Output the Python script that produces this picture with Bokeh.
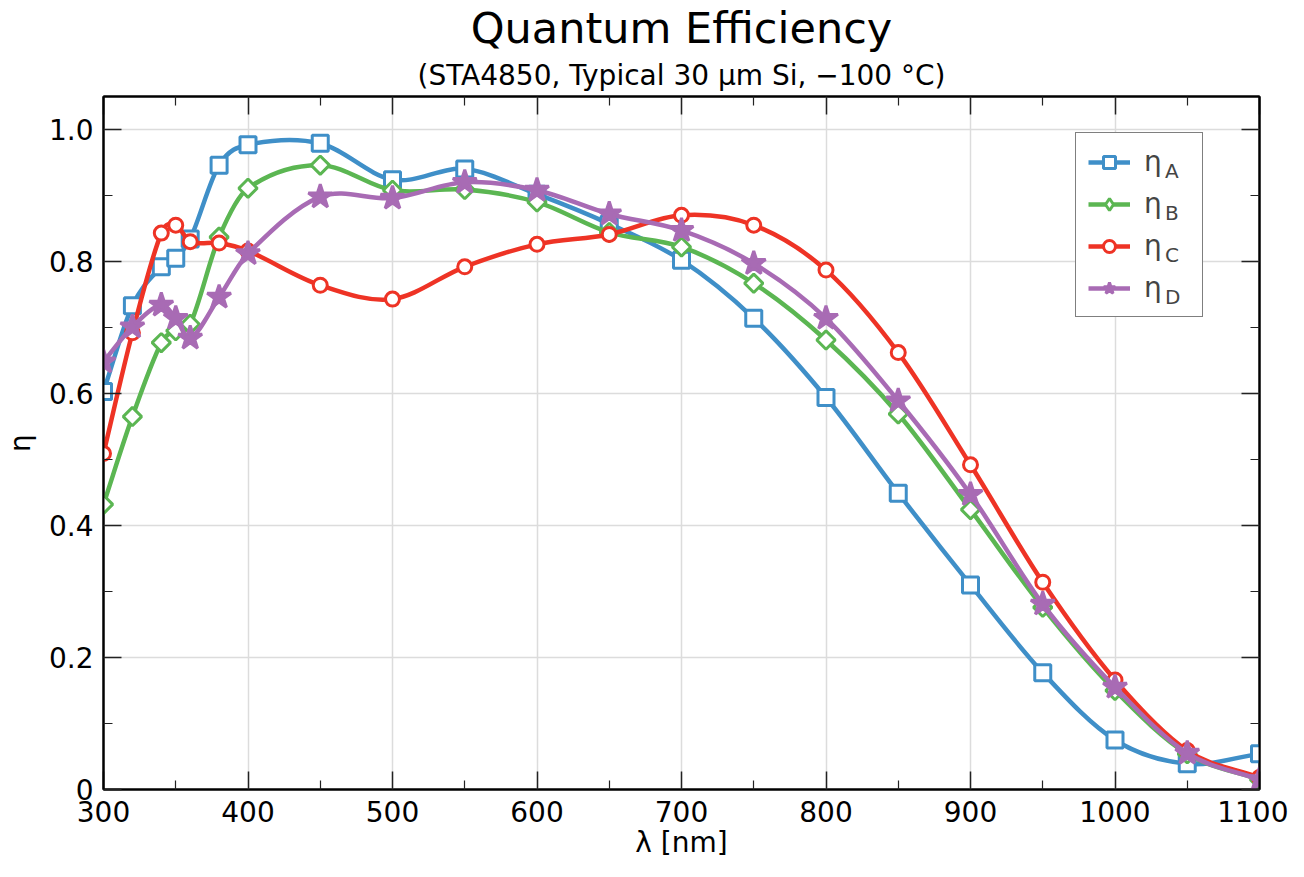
import numpy as np
from bokeh.plotting import figure
from bokeh.models import (LinearAxis, FixedTicker, Range1d, Legend, LegendItem,
                          Title, Grid, ColumnDataSource)
from bokeh.embed import file_html
from bokeh.resources import INLINE

# ---------------- data ----------------
wavelength = [300, 320, 340, 350, 360, 380, 400, 450, 500, 550, 600, 650,
              700, 750, 800, 850, 900, 950, 1000, 1050, 1100]
eta_A = [0.603, 0.733, 0.792, 0.805, 0.834, 0.946, 0.977, 0.979, 0.924, 0.940, 0.902,
         0.857, 0.802, 0.714, 0.594, 0.449, 0.310, 0.177, 0.075, 0.039, 0.054]
eta_B = [0.432, 0.565, 0.677, 0.695, 0.705, 0.837, 0.911, 0.946, 0.908, 0.909, 0.890,
         0.844, 0.822, 0.767, 0.681, 0.569, 0.424, 0.276, 0.150, 0.054, 0.015]
eta_C = [0.509, 0.692, 0.843, 0.855, 0.830, 0.828, 0.816, 0.764, 0.743, 0.792, 0.826,
         0.841, 0.870, 0.855, 0.787, 0.662, 0.492, 0.314, 0.166, 0.059, 0.018]
eta_D = [0.648, 0.701, 0.734, 0.714, 0.684, 0.746, 0.812, 0.898, 0.896, 0.920, 0.908,
         0.872, 0.847, 0.797, 0.714, 0.589, 0.447, 0.281, 0.155, 0.055, 0.015]

series_names = ["A", "B", "C", "D"]
series_values = [eta_A, eta_B, eta_C, eta_D]
colors = ["#3F8FC8", "#5BB652", "#EE3325", "#A86BB4"]

x_ticks = [300, 400, 500, 600, 700, 800, 900, 1000, 1100]
x_minor = [350, 450, 550, 650, 750, 850, 950, 1050]
y_ticks = [0, 0.2, 0.4, 0.6, 0.8, 1.0]
y_tick_labels = ["0", "0.2", "0.4", "0.6", "0.8", "1.0"]
y_minor = [0.1, 0.3, 0.5, 0.7, 0.9]

title_text = "Quantum Efficiency"
subtitle_text = "(STA4850, Typical 30 μm Si, −100 °C)"
x_label = "λ [nm]"
y_label = "η"

FONT = "DejaVu Sans"


def bezier_segments(xs, ys):
    """Hermite-spline segments (as cubic Bezier control points) through the data."""
    xs = np.asarray(xs, float)
    ys = np.asarray(ys, float)
    n = len(xs)
    m = np.zeros(n)
    m[0] = (ys[1] - ys[0]) / (xs[1] - xs[0])
    m[-1] = (ys[-1] - ys[-2]) / (xs[-1] - xs[-2])
    for i in range(1, n - 1):
        m[i] = (ys[i + 1] - ys[i - 1]) / (xs[i + 1] - xs[i - 1])
    h = xs[1:] - xs[:-1]
    return dict(x0=xs[:-1], y0=ys[:-1], x1=xs[1:], y1=ys[1:],
                cx0=xs[:-1] + h / 3, cy0=ys[:-1] + m[:-1] * h / 3,
                cx1=xs[1:] - h / 3, cy1=ys[1:] - m[1:] * h / 3)


p = figure(width=1288, height=861, output_backend="svg", toolbar_location=None,
           x_range=Range1d(300, 1100), y_range=Range1d(0, 1.05),
           min_border_left=95, min_border_right=29, min_border_top=88,
           min_border_bottom=70, x_axis_location=None, y_axis_location=None)
p.background_fill_color = "white"
p.border_fill_color = "white"
p.outline_line_color = "black"
p.outline_line_width = 2


def style_axis(ax, ticks, minor, show_labels):
    ax.ticker = FixedTicker(ticks=ticks, minor_ticks=minor)
    ax.axis_line_color = "black"
    ax.axis_line_width = 2
    ax.major_tick_in = 18
    ax.major_tick_out = 0
    ax.minor_tick_in = 9
    ax.minor_tick_out = 0
    ax.major_tick_line_color = "#222222"
    ax.minor_tick_line_color = "#222222"
    ax.major_tick_line_width = 1.5
    ax.minor_tick_line_width = 1.2
    if show_labels:
        ax.major_label_text_font = FONT
        ax.major_label_text_font_size = "28px"
        ax.major_label_text_color = "black"
        ax.axis_label_text_font = FONT
        ax.axis_label_text_font_size = "28px"
        ax.axis_label_text_font_style = "normal"
        ax.axis_label_text_color = "black"
    else:
        ax.major_label_text_font_size = "0px"
        ax.major_label_text_color = None
        ax.major_label_standoff = 0


xb = LinearAxis(axis_label=x_label)
style_axis(xb, x_ticks, x_minor, True)
xb.major_label_standoff = 11
xb.axis_label_standoff = 1
p.add_layout(xb, "below")

yl = LinearAxis(axis_label=y_label)
style_axis(yl, y_ticks, y_minor, True)
yl.major_label_standoff = 10
yl.major_label_overrides = {t: s for t, s in zip(y_ticks, y_tick_labels)}
yl.axis_label_standoff = 9
p.add_layout(yl, "left")

xt = LinearAxis()
style_axis(xt, x_ticks, x_minor, False)
p.add_layout(xt, "above")

yr = LinearAxis()
style_axis(yr, y_ticks, y_minor, False)
p.add_layout(yr, "right")

p.xgrid.grid_line_color = None
p.ygrid.grid_line_color = None
p.add_layout(Grid(dimension=0, ticker=xb.ticker, grid_line_color="#dcdcdc",
                  grid_line_width=1.5))
p.add_layout(Grid(dimension=1, ticker=yl.ticker, grid_line_color="#dcdcdc",
                  grid_line_width=1.5))

# titles
p.add_layout(Title(text=subtitle_text, align="center", text_font=FONT,
                   text_font_size="28px", text_font_style="normal",
                   text_color="black", standoff=9), "above")
p.add_layout(Title(text=title_text, align="center", text_font=FONT,
                   text_font_size="43px", text_font_style="normal",
                   text_color="black", standoff=0), "above")

# invisible proxy renderer for text-only legend entries
ghost_src = ColumnDataSource(data=dict(x=[np.nan], y=[np.nan]))
ghost = p.scatter("x", "y", source=ghost_src, size=1, fill_alpha=0, line_alpha=0)

# series
items = []
marker_specs = [
    dict(marker="square", size=16, angle=0.0, fill_white=True, legend_marker="square"),
    dict(marker="square", size=13, angle=np.pi / 4, fill_white=True, legend_marker="diamond"),
    dict(marker="circle", size=14, angle=0.0, fill_white=True, legend_marker="circle"),
    dict(marker="star", size=25, angle=0.0, fill_white=False, legend_marker="star"),
]
for name, vals, col, spec in zip(series_names, series_values, colors, marker_specs):
    seg = bezier_segments(wavelength, vals)
    fill = "white" if spec["fill_white"] else col
    br = p.bezier(line_color=col, line_width=4.5, **seg)
    sr = p.scatter(wavelength, vals, marker=spec["marker"], size=spec["size"],
                   angle=spec["angle"], line_color=col, line_width=3,
                   fill_color=fill)
    rends = [br, sr]
    if spec["legend_marker"] != spec["marker"]:
        # legend-only proxy (a single undrawn point) so the key shows a diamond
        proxy = ColumnDataSource(data=dict(x=[np.nan], y=[np.nan]))
        lr = p.scatter("x", "y", source=proxy, marker=spec["legend_marker"],
                       size=spec["size"], line_color=col, line_width=3,
                       fill_color=fill)
        rends = [br, lr]
    items.append(LegendItem(label="η", renderers=rends))

LEG_LEFT, LEG_BOTTOM = 972, 472   # px from the frame's lower-left corner
legend = Legend(items=items, location=(LEG_LEFT, LEG_BOTTOM), padding=12, spacing=9,
                glyph_width=42, glyph_height=30, label_height=30,
                label_standoff=14, label_width=46,
                label_text_font=FONT, label_text_font_size="28px",
                border_line_color="black", border_line_width=1.5,
                background_fill_color="white", background_fill_alpha=1.0,
                margin=0)
p.add_layout(legend, "center")

# subscripts A-D of the legend labels, as a second text-only key on top
sub_items = [LegendItem(label=name, renderers=[ghost]) for name in series_names]
sub_legend = Legend(items=sub_items, location=(LEG_LEFT + 89, LEG_BOTTOM + 4),
                    padding=12, spacing=9, glyph_width=1, glyph_height=33,
                    label_height=33, label_standoff=0, label_width=20,
                    label_text_font=FONT, label_text_font_size="20px",
                    border_line_color=None, background_fill_alpha=0.0,
                    inactive_fill_alpha=0.0, margin=0)
p.add_layout(sub_legend, "center")

open("out.html", "w").write(file_html(p, INLINE))
